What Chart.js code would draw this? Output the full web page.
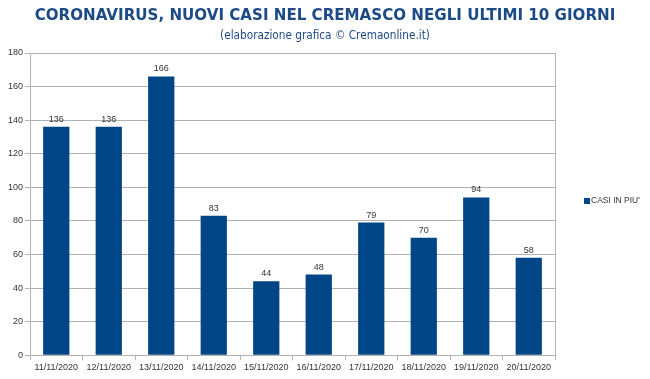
<!DOCTYPE html>
<html><head><meta charset="utf-8">
<script src="https://cdn.jsdelivr.net/npm/chart.js@4"></script>
<style>html,body{margin:0;padding:0;background:#fff}</style>
</head><body>
<canvas id="c" width="650" height="379"></canvas>
<script>
const categories = ["11/11/2020","12/11/2020","13/11/2020","14/11/2020","15/11/2020","16/11/2020","17/11/2020","18/11/2020","19/11/2020","20/11/2020"];
const casiInPiu = [136,136,166,83,44,48,79,70,94,58];
const seriesLabel = "CASI IN PIU'";
const titleText = "CORONAVIRUS, NUOVI CASI NEL CREMASCO NEGLI ULTIMI 10 GIORNI";
const subtitleText = "(elaborazione grafica \u00A9 Cremaonline.it)";

const barColor = '#004586';
const gridColor = '#b3b3b3';
const txt = '#333333';
const titleColor = '#1c4a86';

const headings = {
  id: 'headings',
  afterDraw(chart) {
    const ctx = chart.ctx, w = chart.width;
    ctx.save();
    ctx.fillStyle = titleColor;
    ctx.textAlign = 'center';
    ctx.textBaseline = 'middle';
    ctx.font = 'bold 15.1px "DejaVu Sans", Verdana, sans-serif';
    ctx.fillText(titleText, w / 2, 16);
    ctx.font = '11.7px Tahoma, "DejaVu Sans Condensed", "DejaVu Sans", sans-serif';
    ctx.fillText(subtitleText, w / 2, 36);
    ctx.restore();
  }
};
const valueLabels = {
  id: 'valueLabels',
  afterDatasetsDraw(chart) {
    const ctx = chart.ctx;
    const meta = chart.getDatasetMeta(0);
    ctx.save();
    ctx.font = '9px "Liberation Sans", Arial, sans-serif';
    ctx.fillStyle = txt;
    ctx.textAlign = 'center';
    ctx.textBaseline = 'bottom';
    meta.data.forEach((el, i) => {
      ctx.fillText(String(chart.data.datasets[0].data[i]), el.x, el.y - 3);
    });
    ctx.restore();
  }
};
const frame = {
  id: 'frame',
  beforeDatasetsDraw(chart) {
    const a = chart.chartArea, ctx = chart.ctx;
    ctx.save();
    ctx.strokeStyle = gridColor; ctx.lineWidth = 1;
    ctx.beginPath();
    ctx.moveTo(Math.round(a.right)+0.5, a.top);
    ctx.lineTo(Math.round(a.right)+0.5, a.bottom);
    ctx.stroke();
    ctx.restore();
  }
};
const sideLegend = {
  id: 'sideLegend',
  afterDraw(chart) {
    const ctx = chart.ctx;
    const ds = chart.data.datasets[0];
    const y = 201;
    ctx.save();
    ctx.fillStyle = ds.backgroundColor;
    ctx.fillRect(584, y - 3, 6, 6);
    ctx.font = '8.5px "Liberation Sans", Arial, sans-serif';
    ctx.fillStyle = txt;
    ctx.textBaseline = 'middle';
    ctx.fillText(ds.label, 591, y);
    ctx.restore();
  }
};

new Chart(document.getElementById('c'), {
  type: 'bar',
  data: {
    labels: categories,
    datasets: [{ label: seriesLabel, data: casiInPiu, backgroundColor: barColor,
      barPercentage: 0.5, categoryPercentage: 1.0 }]
  },
  options: {
    responsive: false,
    animation: false,
    layout: { padding: { left: 6, right: 95, top: 53, bottom: 4 } },
    plugins: {
      legend: { display: false },
      tooltip: { enabled: false },
      title: { display: false },
      subtitle: { display: false }
    },
    scales: {
      x: {
        grid: { drawOnChartArea: false, drawTicks: true, tickLength: 5, color: gridColor, offset: true },
        border: { color: gridColor },
        ticks: { color: txt, font: { family: '"Liberation Sans", Arial, sans-serif', size: 9 }, maxRotation: 0, autoSkip: false, padding: 2 }
      },
      y: {
        min: 0, max: 180,
        ticks: { stepSize: 20, color: txt, font: { family: '"Liberation Sans", Arial, sans-serif', size: 9 }, padding: 2 },
        grid: { color: gridColor, tickLength: 5 },
        border: { color: gridColor }
      }
    }
  },
  plugins: [headings, valueLabels, frame, sideLegend]
});
</script>
</body></html>
